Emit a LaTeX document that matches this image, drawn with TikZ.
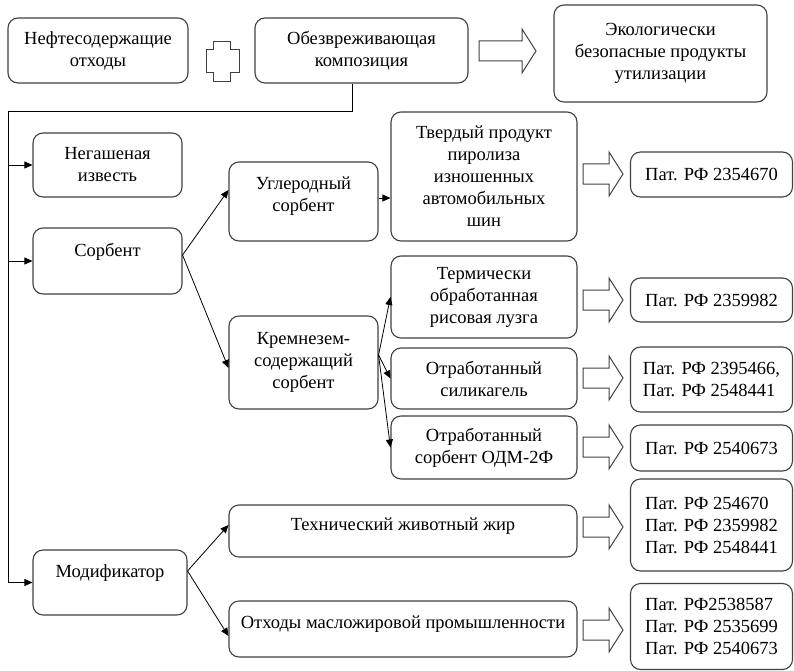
\documentclass[tikz,border=0pt]{standalone}
\usepackage{fontspec}
\setmainfont{Liberation Serif}[Script=Cyrillic, Ligatures=TeX]
\usetikzlibrary{arrows.meta, calc}
\tikzset{
  box/.style={draw=black!75, line width=1.1pt, rounded corners=10pt, align=center, font=\fontsize{18.5}{22}\selectfont, inner sep=2pt},
  patbox/.style={box, align=left, minimum width=162pt},
  arr/.style={-{Triangle[length=8pt,width=7pt]}, line width=0.8pt},
  hollow/.style={draw=black!75, line width=1pt, line join=miter},
  pics/fatarrow/.style={code={
    \draw[hollow] (0,-10) -- (#1-14,-10) -- (#1-14,-22) -- (#1,0) -- (#1-14,22) -- (#1-14,10) -- (0,10) -- cycle;}},
}

\begin{document}
\begin{tikzpicture}[x=1pt, y=-1pt]
  \useasboundingbox (0,0) rectangle (794,671);
  % top row
  \node[box, minimum width=180pt, minimum height=65pt] (waste) at (98,50.5) {Нефтесодержащие\\отходы};
  \node[box, minimum width=213pt, minimum height=65pt] (comp) at (361.5,50.5) {Обезвреживающая\\композиция};
  \node[box, minimum width=213pt, minimum height=97pt] (eco) at (660.5,53.5) {Экологически\\безопасные продукты\\утилизации};
  \draw[hollow] (213,42) -- (230,42) -- (230,50) -- (239,50) -- (239,73) -- (230,73) -- (230,82)
    -- (213,82) -- (213,73) -- (206,73) -- (206,50) -- (213,50) -- cycle;
  \pic at (479,51) {fatarrow=57};

  % components
  \node[box, minimum width=149pt, minimum height=64pt] (lime) at (107.5,165) {Негашеная\\известь};
  \node[box, minimum width=149pt, minimum height=66pt] (sorb) at (107.5,261) {Сорбент\\\mbox{}};
  \node[box, minimum width=154pt, minimum height=65pt] (mod) at (110,582.5) {Модификатор\\\mbox{}};

  % sorbents
  \node[box, minimum width=149pt, minimum height=79pt] (carb) at (303.5,201.5) {Углеродный\\сорбент\\[-8pt]\mbox{}};
  \node[box, minimum width=149pt, minimum height=93pt] (silic) at (303.5,362.5) {Кремнезем-\\содержащий\\сорбент};
  \node[box, minimum width=186pt, minimum height=129pt] (tire) at (484,176.5) {Твердый продукт\\пиролиза\\изношенных\\автомобильных\\шин};
  \node[box, minimum width=186pt, minimum height=82pt] (rice) at (484,297) {Термически\\обработанная\\рисовая лузга};
  \node[box, minimum width=186pt, minimum height=61pt] (gel) at (484,378.5) {Отработанный\\силикагель};
  \node[box, minimum width=186pt, minimum height=63pt] (odm) at (484,447.5) {Отработанный\\сорбент ОДМ-2Ф};
  \node[box, minimum width=348pt, minimum height=52pt] (fat) at (403,531) {Технический животный жир\\[-8pt]\mbox{}};
  \node[box, minimum width=348pt, minimum height=56pt] (oil) at (403,629) {Отходы масложировой промышленности\\[-8pt]\mbox{}};

  % patents
  \node[patbox, minimum height=45pt] (pat1) at (711.5,174.5) {Пат. РФ 2354670};
  \node[patbox, minimum height=44pt] (pat2) at (711.5,300) {Пат. РФ 2359982};
  \node[patbox, minimum height=65pt] (pat3) at (711.5,379.5) {Пат. РФ 2395466,\\Пат. РФ 2548441};
  \node[patbox, minimum height=46pt] (pat4) at (711.5,448) {Пат. РФ 2540673};
  \node[patbox, minimum height=92pt] (pat5) at (711.5,525) {Пат. РФ 254670\\Пат. РФ 2359982\\Пат. РФ 2548441};
  \node[patbox, minimum height=86pt] (pat6) at (711.5,626.5) {Пат. РФ2538587\\Пат. РФ 2535699\\Пат. РФ 2540673};

  \foreach \y in {174,300,378,447,527,630}
    \pic at (583,\y) {fatarrow=40};

  % connectors
  \coordinate (trunk) at (8,111);
  \draw[line width=0.8pt] ([xshift=-9.5pt]comp.south) |- (trunk);
  \draw[arr] (trunk) |- (mod.west);
  \draw[arr] (trunk |- lime.west) -- (lime.west);
  \draw[arr] (trunk |- sorb.west) -- (sorb.west);
  \draw[arr] ([yshift=6pt]sorb.east) -- ([yshift=11.5pt]carb.west);
  \draw[arr] ([yshift=6pt]sorb.east) -- ([yshift=-5.5pt]silic.west);
  \draw[arr] ([yshift=3.5pt]carb.east) -- ([yshift=3.5pt]carb.east -| tire.west);
  \draw[arr] ([yshift=7.5pt]silic.east) -- (rice.west);
  \draw[arr] ([yshift=7.5pt]silic.east) -- (gel.west);
  \draw[arr] ([yshift=7.5pt]silic.east) -- (odm.west);
  \draw[arr] ([yshift=11.5pt]mod.east) -- ([yshift=6pt]fat.west);
  \draw[arr] ([yshift=11.5pt]mod.east) -- ([yshift=-7pt]oil.west);
\end{tikzpicture}
\end{document}
